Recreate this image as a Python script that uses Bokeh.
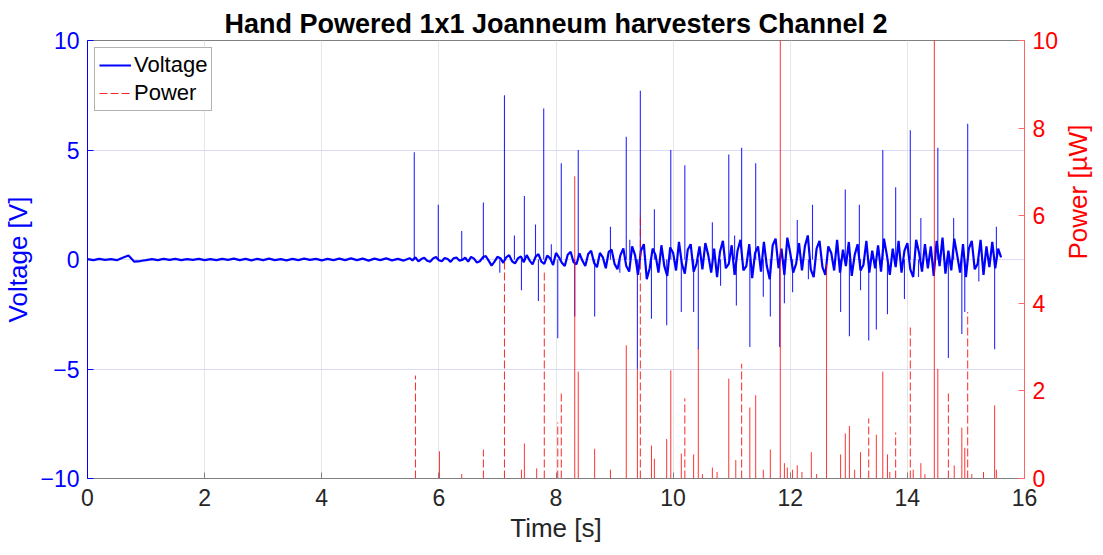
import math
import numpy as np
from bokeh.plotting import figure
from bokeh.models import Range1d, LinearAxis, FixedTicker, Legend, LegendItem
from bokeh.embed import file_html
from bokeh.resources import INLINE

# ---------------- data ----------------
title_text = "Hand Powered 1x1 Joanneum harvesters Channel 2"

# quiet part of the voltage record, sampled every 0.1 s from t = 0
quiet_dt = 0.1
quiet_v = [0.02, -0.03, 0.03, -0.02, 0.02, -0.03, 0.08, 0.18, -0.1, -0.07,
           -0.03, 0.02, -0.03, 0.03, -0.02, 0.03, -0.03, 0.02, -0.02, 0.03,
           -0.03, 0.02, -0.03, 0.03, -0.02, 0.04, -0.03, 0.03, -0.04, 0.03,
           -0.03, 0.04, -0.03, 0.02, -0.04, 0.03, -0.03, 0.04, -0.02, 0.03,
           -0.04, 0.03, -0.03, 0.04, -0.03, 0.05, -0.03, 0.04, -0.05, 0.04,
           -0.03, 0.05, -0.04, 0.03, -0.05]

# active part of the voltage record, sampled every 0.05 s from t = 5.5
active_t0 = 5.5
active_dt = 0.05
active_v = [0.06, -0.04, 0.1, -0.09, 0.02, 0.08, -0.06, -0.1, 0.05, 0.11,
            -0.03, -0.08, 0.07, 0.02, -0.11, 0.05, 0.09, -0.05, -0.02, 0.08,
            -0.1, 0.12, 0.04, -0.14, -0.08, 0.1, 0.16, -0.05, -0.28, -0.1,
            0.12, 0.06, -0.15, 0.1, 0.2, -0.08, -0.18, 0.05, 0.14, -0.12,
            0.2, -0.05, -0.22, 0.12, 0.25, -0.1, -0.2, 0.18, 0.05, -0.25,
            0.3, 0.1, -0.15, -0.3, 0.22, 0.35, -0.12, -0.22, 0.28, -0.05,
            -0.3, 0.25, 0.4, -0.15, -0.35, 0.3, 0.1, -0.4, 0.35, 0.45,
            -0.2, -0.45, 0.2, 0.5, -0.3, -0.55, 0.6, 0.2, -0.7, 0.4,
            0.7, -0.9, -0.4, 0.5, 0.2, -0.6, 0.65, -0.3, -0.75, 0.55,
            0.3, -0.5, 0.8, -0.2, -0.65, 0.45, 0.7, -0.55, -0.2, 0.6,
            -0.45, 0.75, 0.2, -0.6, 0.5, -0.8, 0.35, 0.85, -0.4, -0.2,
            0.65, -0.7, 0.4, 0.9, -0.5, -0.3, 0.7, -0.85, 0.3, 0.6,
            -0.55, 0.8, -0.3, -0.9, 0.65, 0.95, -0.4, 0.5, -0.7, 1.0,
            0.3, -0.6, -0.2, 0.75, -0.5, 0.6, 1.1, -0.45, -0.8, 0.5,
            0.85, -0.35, -0.7, 0.6, 0.3, -0.5, 0.9, -0.6, 0.45, -0.3,
            0.8, -0.75, 0.2, 0.7, -0.5, -0.25, 0.85, -0.6, 0.4, -0.4,
            0.65, -0.55, 0.95, 0.2, -0.7, 0.5, -0.35, 0.85, -0.6, 0.4,
            0.75, -0.45, -0.8, 0.9, 0.3, -0.55, 0.7, -0.4, 0.6, -0.75,
            0.85, -0.3, 1.0, -0.65, 0.4, -0.5, 0.95, 0.2, -0.6, 0.7,
            -0.8, 0.5, 0.85, -0.45, -0.2, 0.9, -0.7, 0.6, -0.35, 0.8,
            -0.4, 0.5, 0.1]

# positive voltage spikes
vpos_t = [5.58, 5.99, 6.39, 6.76, 7.12, 7.29, 7.46, 7.65, 7.79, 7.92, 8.09, 8.38,
          8.93, 9.20, 9.26, 9.44, 9.68, 9.96, 10.20, 10.67, 10.95, 11.05, 11.17, 11.41,
          12.12, 12.38, 12.94, 13.18, 13.58, 13.80, 14.05, 14.23, 14.52, 14.79, 15.03, 15.52]
vpos_v = [4.9, 2.5, 1.3, 2.6, 7.5, 1.1, 2.9, 1.6, 6.9, 0.7, 4.4, 5.0,
          1.5, 5.6, 0.9, 7.7, 2.3, 5.0, 4.3, 1.7, 4.8, 1.1, 5.1, 4.4,
          1.8, 2.5, 3.2, 2.5, 5.0, 3.3, 5.9, 1.9, 5.1, 1.9, 6.2, 1.5]

# negative voltage spikes
vneg_t = [7.04, 7.41, 7.70, 8.03, 8.32, 8.66, 9.09, 9.39, 9.63, 9.89, 10.14, 10.35,
          10.43, 10.81, 11.08, 11.31, 11.54, 11.66, 11.82, 11.90, 12.04, 12.31, 12.86,
          13.01, 13.20, 13.34, 13.47, 13.66, 13.95, 14.19, 14.70, 14.93, 14.98, 15.22, 15.49]
vneg_v = [-0.6, -1.4, -1.9, -3.6, -2.6, -2.6, -0.6, -5.0, -2.7, -3.0, -2.4, -2.4,
          -4.1, -1.2, -2.1, -4.0, -1.7, -2.6, -4.0, -2.0, -1.5, -0.9, -2.4,
          -3.5, -1.4, -3.7, -3.2, -2.5, -1.8, -0.8, -4.5, -3.4, -2.4, -1.0, -4.1]

# power spikes [uW] (some exceed the 10 uW axis limit)
pdash_t = [5.60, 6.76, 7.12, 7.80, 8.03, 8.09, 9.44, 10.20, 11.17, 13.34, 13.80, 14.05, 14.70, 15.03]
pdash_v = [2.35, 0.66, 4.95, 4.7, 1.28, 1.94, 6.05, 1.83, 2.62, 1.37, 1.05, 3.5, 2.0, 3.8]

psolid_t = [6.01, 6.39, 7.41, 7.46, 7.67, 8.32, 8.38, 8.66, 8.93, 9.20, 9.39, 9.63,
            9.68, 9.89, 9.96, 10.14, 10.35, 10.43, 10.67, 10.95, 11.07, 11.31, 11.41,
            11.54, 11.66, 11.83, 11.90, 12.04, 12.12, 12.36, 12.62, 12.86, 12.94, 13.01,
            13.20, 13.47, 13.58, 13.66, 14.23, 14.46, 14.52, 14.93, 14.98, 15.49, 15.52,
            10.5, 10.75, 11.95, 12.2, 12.45, 13.1, 13.7, 14.1, 14.3, 14.8, 15.1, 15.3]
psolid_v = [0.62, 0.1, 0.2, 0.8, 0.23, 6.9, 2.44, 0.68, 0.2, 3.04, 2.5, 0.75,
            0.45, 0.9, 2.47, 0.57, 0.55, 2.97, 0.25, 2.28, 0.42, 1.62, 1.9,
            0.2, 0.66, 10.5, 0.35, 0.2, 0.3, 0.6, 4.9, 0.55, 1.03, 1.2,
            0.6, 1.0, 2.44, 0.55, 0.35, 10.5, 2.5, 1.16, 0.7, 1.67, 0.2,
            0.1, 0.15, 0.25, 0.15, 0.1, 0.2, 0.15, 0.2, 0.1, 0.3, 0.1, 0.15]

record_span = [0.0, 15.6]

x_ticks = [0, 2, 4, 6, 8, 10, 12, 14, 16]
v_ticks = [-10, -5, 0, 5, 10]
p_ticks = [0, 2, 4, 6, 8, 10]

# ---------------- build series ----------------
quiet_t = np.arange(len(quiet_v)) * quiet_dt
active_t = active_t0 + np.arange(len(active_v)) * active_dt
base_t = np.concatenate([quiet_t, active_t])
base_v = np.concatenate([quiet_v, active_v])

BLUE = "#0000FF"
RED = "#FF0000"
FONT = "Liberation Sans"

p = figure(frame_width=937, frame_height=438,
           min_border_left=86, min_border_right=80, min_border_top=40, min_border_bottom=77,
           x_range=Range1d(0, 16), y_range=Range1d(-10, 10),
           output_backend="svg", toolbar_location=None,
           title=title_text)
p.extra_y_ranges = {"power": Range1d(0, 10)}

p.title.align = "center"
p.title.vertical_align = "top"
p.title.text_font = FONT
p.title.text_font_size = "27px"
p.title.text_font_style = "bold"
p.title.text_color = "#000000"
p.title.standoff = 0

p.outline_line_color = "#808080"
p.background_fill_color = "white"
p.border_fill_color = "white"

# grids
p.xgrid.ticker = FixedTicker(ticks=x_ticks)
p.xgrid.grid_line_color = "#E6E6E6"
p.ygrid.ticker = FixedTicker(ticks=v_ticks)
p.ygrid.grid_line_color = "#DCDCFA"

# x axis
xa = p.xaxis[0]
xa.ticker = FixedTicker(ticks=x_ticks)
xa.axis_label = "Time [s]"
xa.axis_label_text_font = FONT
xa.axis_label_text_font_size = "26px"
xa.axis_label_text_font_style = "normal"
xa.axis_label_text_color = "#262626"
xa.axis_label_standoff = 4
xa.major_label_text_font = FONT
xa.major_label_text_font_size = "23px"
xa.major_label_text_color = "#262626"
xa.major_label_standoff = 10
xa.axis_line_color = "#808080"
xa.major_tick_line_color = "#808080"
xa.major_tick_in = 6
xa.major_tick_out = 0
xa.minor_tick_line_color = None

# left axis
ya = p.yaxis[0]
ya.ticker = FixedTicker(ticks=v_ticks)
ya.axis_label = "Voltage [V]"
ya.axis_label_text_font = FONT
ya.axis_label_text_font_size = "26px"
ya.axis_label_text_font_style = "normal"
ya.axis_label_text_color = BLUE
ya.axis_label_standoff = 4
ya.major_label_text_font = FONT
ya.major_label_text_font_size = "23px"
ya.major_label_text_color = BLUE
ya.major_label_standoff = 8
ya.axis_line_color = BLUE
ya.major_tick_line_color = BLUE
ya.major_tick_in = 6
ya.major_tick_out = 0
ya.minor_tick_line_color = None

# right axis
ra = LinearAxis(y_range_name="power", ticker=FixedTicker(ticks=p_ticks))
ra.axis_label = "Power [µW]"
ra.axis_label_orientation = math.pi / 2
ra.axis_label_text_font = FONT
ra.axis_label_text_font_size = "26px"
ra.axis_label_text_font_style = "normal"
ra.axis_label_text_color = RED
ra.axis_label_standoff = 17
ra.major_label_text_font = FONT
ra.major_label_text_font_size = "23px"
ra.major_label_text_color = RED
ra.major_label_standoff = 8
ra.axis_line_color = "#FF6666"
ra.major_tick_line_color = "#FF6666"
ra.major_tick_in = 6
ra.major_tick_out = 0
ra.minor_tick_line_color = None
p.add_layout(ra, "right")

# voltage
volt_line = p.line(base_t, base_v, line_color=BLUE, line_width=2.2)
p.segment(x0=vpos_t, y0=[0] * len(vpos_t), x1=vpos_t, y1=vpos_v,
          line_color=BLUE, line_width=1.1, line_alpha=0.85)
p.segment(x0=vneg_t, y0=[0] * len(vneg_t), x1=vneg_t, y1=vneg_v,
          line_color=BLUE, line_width=1.1, line_alpha=0.85)

# power
p.line(record_span, [0, 0], line_color=RED, line_width=1, line_alpha=0.6, y_range_name="power")
p.segment(x0=psolid_t, y0=[0] * len(psolid_t), x1=psolid_t, y1=psolid_v,
          line_color=RED, line_width=1, line_alpha=0.8, y_range_name="power")
pow_dash = p.segment(x0=pdash_t, y0=[0] * len(pdash_t), x1=pdash_t, y1=pdash_v,
                     line_color=RED, line_width=1, line_alpha=0.85, line_dash="8 3",
                     y_range_name="power")

legend = Legend(items=[LegendItem(label="Voltage", renderers=[volt_line]),
                       LegendItem(label="Power", renderers=[pow_dash])],
                location="top_left")
legend.label_text_font = FONT
legend.label_text_font_size = "22px"
legend.label_text_color = "#000000"
legend.glyph_width = 32
legend.glyph_height = 26
legend.label_height = 26
legend.label_standoff = 3
legend.spacing = 2
legend.padding = 4
legend.margin = 7
legend.border_line_color = "#666666"
legend.border_line_width = 1
legend.background_fill_alpha = 1.0
p.add_layout(legend)

open("out.html", "w").write(file_html(p, INLINE))
